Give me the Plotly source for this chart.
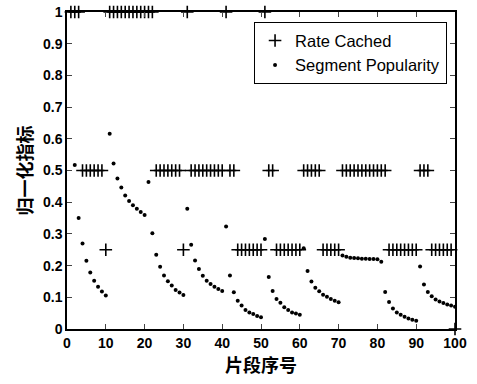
import plotly.graph_objects as go

segments = list(range(1, 101))

rate_cached = (
    [1, 1, 1] + [0.5] * 6 + [0.25]            # 1-10
    + [1] * 12 + [0.5] * 7 + [0.25]           # 11-30
    + [1] + [0.5] * 9                         # 31-40
    + [1] + [0.5] * 2 + [0.25] * 7            # 41-50
    + [1] + [0.5] * 2 + [0.25] * 7            # 51-60
    + [0.5] * 5 + [0.25] * 5                  # 61-70
    + [0.5] * 12 + [0.25] * 8                 # 71-90
    + [0.5] * 3 + [0.25] * 6 + [0]            # 91-100
)

popularity = [
    None, 0.517, 0.35, 0.27, 0.215, 0.178, 0.152, 0.133, 0.118, 0.106,
    0.616, 0.522, 0.475, 0.446, 0.421, 0.404, 0.39, 0.379, 0.369, 0.36,
    0.464, 0.302, 0.234, 0.196, 0.169, 0.151, 0.137, 0.123, 0.115, 0.107,
    0.379, 0.266, 0.216, 0.189, 0.168, 0.152, 0.142, 0.133, 0.126, 0.12,
    0.323, 0.169, 0.116, 0.089, 0.074, 0.06, 0.052, 0.047, 0.041, 0.037,
    0.284, 0.164, 0.12, 0.095, 0.083, 0.069, 0.06, 0.052, 0.049, 0.045,
    0.255, 0.183, 0.15, 0.13, 0.119, 0.108, 0.102, 0.095, 0.089, 0.084,
    0.232, 0.228, 0.225, 0.224, 0.223, 0.222, 0.222, 0.221, 0.221, 0.22,
    0.212, 0.117, 0.085, 0.065, 0.052, 0.045, 0.039, 0.033, 0.029, 0.026,
    0.197, 0.14, 0.117, 0.103, 0.093, 0.087, 0.082, 0.077, 0.074, 0.07,
]

x_ticks = list(range(0, 101, 10))
y_ticks = [0, 0.1, 0.2, 0.3, 0.4, 0.5, 0.6, 0.7, 0.8, 0.9, 1]
y_tick_text = ["0", "0.1", "0.2", "0.3", "0.4", "0.5", "0.6", "0.7", "0.8", "0.9", "1"]

fig = go.Figure()
fig.add_trace(go.Scatter(
    x=segments, y=rate_cached, mode="markers", name="Rate Cached",
    marker=dict(symbol="cross-thin-open", size=9, color="black",
                line=dict(color="black", width=1.6)),
    cliponaxis=False,
))
fig.add_trace(go.Scatter(
    x=segments, y=popularity, mode="markers", name="Segment Popularity",
    marker=dict(symbol="circle", size=4, color="black"),
    cliponaxis=False,
))

tick_font = dict(family="Liberation Sans, Arial, sans-serif", size=14, color="black", weight="bold")
cjk = "Noto Sans CJK SC"

fig.update_layout(
    width=477, height=384,
    margin=dict(l=67, r=22, t=12, b=55, autoexpand=False),
    paper_bgcolor="white", plot_bgcolor="white",
    showlegend=True,
    legend=dict(
        x=0.979, y=0.968, xanchor="right", yanchor="top",
        bgcolor="white", bordercolor="black", borderwidth=1.2,
        font=dict(family="Liberation Sans, Arial, sans-serif", size=16.5, color="black"),
        itemwidth=30, tracegroupgap=0,
    ),
    xaxis=dict(
        range=[0, 100], tickvals=x_ticks, ticks="inside", ticklen=5,
        showline=True, linecolor="black", linewidth=1.5, mirror="allticks",
        showgrid=False, zeroline=False, tickfont=tick_font, automargin=False,
        title=dict(text="片段序号", font=dict(family=cjk, size=18, color="black", weight="bold"), standoff=6),
    ),
    yaxis=dict(
        range=[0, 1], tickvals=y_ticks, ticktext=y_tick_text, ticks="inside", ticklen=5,
        showline=True, linecolor="black", linewidth=1.5, mirror="allticks",
        showgrid=False, zeroline=False, tickfont=tick_font, automargin=False,
        title=dict(text="归一化指标", font=dict(family=cjk, size=18, color="black", weight="bold"), standoff=6),
    ),
)

fig.write_html("out.html", config={"displayModeBar": False},
               post_script="document.body.style.margin='0';")
